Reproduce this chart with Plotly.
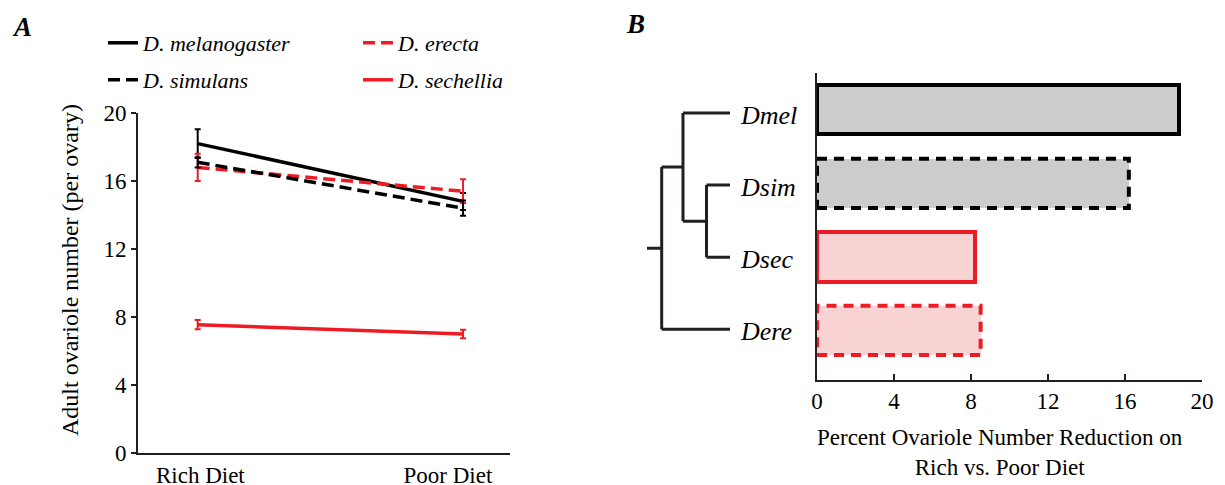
import plotly.graph_objects as go

# ---------------- data ----------------
diets = ["Rich Diet", "Poor Diet"]
diet_x = [0, 1]

species = ["D. melanogaster", "D. erecta", "D. simulans", "D. sechellia"]
mel_mean = [18.2, 14.8]
mel_err = [0.85, 0.5]
ere_mean = [16.8, 15.4]
ere_err = [0.8, 0.7]
sim_mean = [17.1, 14.4]
sim_err = [0.3, 0.45]
sec_mean = [7.55, 7.0]
sec_err = [0.27, 0.25]

short_names = ["Dmel", "Dsim", "Dsec", "Dere"]
reduction = [18.8, 16.2, 8.2, 8.5]
bar_pos = [3, 2, 1, 0]

y_ticks_a = [0, 4, 8, 12, 16, 20]
x_ticks_b = [0, 4, 8, 12, 16, 20]

# ---------------- styling ----------------
W, H = 1225, 485
FONT = "Liberation Serif"
BLACK = "#000000"
RED = "#ed1c24"
GREY_FILL = "#cccccc"
PINK_FILL = "#f9d3d4"
AXIS = "#231f20"
DASH = "12px,6px"


def px_x(p):
    return p / W


def px_y(p):
    return 1 - p / H


fig = go.Figure()

# ---------------- panel A: line chart ----------------
series = [
    ("D. melanogaster", mel_mean, mel_err, BLACK, "solid", "legend"),
    ("D. erecta", ere_mean, ere_err, RED, DASH, "legend"),
    ("D. simulans", sim_mean, sim_err, BLACK, DASH, "legend2"),
    ("D. sechellia", sec_mean, sec_err, RED, "solid", "legend2"),
]
for name, mean, err, color, dash, leg in series:
    fig.add_trace(go.Scatter(
        x=diet_x, y=mean, name=name, mode="lines",
        line=dict(color=color, width=3.5, dash=dash),
        error_y=dict(type="data", array=err, visible=True, color=color,
                     thickness=2, width=3),
        xaxis="x", yaxis="y", legend=leg,
    ))

# ---------------- panel B: bar chart ----------------
fills = [GREY_FILL, GREY_FILL, PINK_FILL, PINK_FILL]
edges = [BLACK, BLACK, RED, RED]
dashed = [False, True, False, True]
BAR_W = 0.67
for name, val, pos, fc, ec, dsh in zip(short_names, reduction, bar_pos, fills, edges, dashed):
    fig.add_trace(go.Bar(
        x=[val], y=[pos], orientation="h", width=BAR_W,
        marker=dict(color=fc, line=dict(color=ec, width=0 if dsh else 4)),
        xaxis="x2", yaxis="y2", showlegend=False, hoverinfo="skip",
    ))
    if dsh:
        lo, hi = pos - BAR_W / 2, pos + BAR_W / 2
        fig.add_trace(go.Scatter(
            x=[0, val, val, 0, 0], y=[lo, lo, hi, hi, lo], mode="lines",
            line=dict(color=ec, width=4, dash="10px,7px"),
            xaxis="x2", yaxis="y2", showlegend=False, hoverinfo="skip",
        ))

# ---------------- cladogram ----------------
# branch depths of the internal nodes and the leaf tips
tree_depth = {"root": 0.0, "n1": 1.0, "n2": 2.45, "n3": 4.05, "tip": 5.65}
leaf_y = dict(zip(short_names, bar_pos))
n3_y = (leaf_y["Dsim"] + leaf_y["Dsec"]) / 2
n2_y = (leaf_y["Dmel"] + n3_y) / 2
n1_y = (n2_y + leaf_y["Dere"]) / 2
d = tree_depth
segments = [
    ([d["root"], d["n1"]], [n1_y, n1_y]),
    ([d["n1"], d["n1"]], [leaf_y["Dere"], n2_y]),
    ([d["n1"], d["tip"]], [leaf_y["Dere"], leaf_y["Dere"]]),
    ([d["n1"], d["n2"]], [n2_y, n2_y]),
    ([d["n2"], d["n2"]], [n3_y, leaf_y["Dmel"]]),
    ([d["n2"], d["tip"]], [leaf_y["Dmel"], leaf_y["Dmel"]]),
    ([d["n2"], d["n3"]], [n3_y, n3_y]),
    ([d["n3"], d["n3"]], [leaf_y["Dsec"], leaf_y["Dsim"]]),
    ([d["n3"], d["tip"]], [leaf_y["Dsim"], leaf_y["Dsim"]]),
    ([d["n3"], d["tip"]], [leaf_y["Dsec"], leaf_y["Dsec"]]),
]
tx, ty = [], []
for sx, sy in segments:
    tx += sx + [None]
    ty += sy + [None]
fig.add_trace(go.Scatter(
    x=tx, y=ty, mode="lines", line=dict(color=AXIS, width=3),
    xaxis="x3", yaxis="y3", showlegend=False, hoverinfo="skip",
))

for nm in short_names:
    fig.add_annotation(
        text=nm, x=px_x(738), xref="paper", xanchor="left",
        y=leaf_y[nm], yref="y3", yanchor="middle", yshift=-2,
        showarrow=False, font=dict(family=FONT, size=26, color=BLACK, style="italic"),
    )

# ---------------- axes ----------------
tick_font = dict(family=FONT, size=23, color=BLACK)
a_dom_x = [px_x(138), px_x(510)]
a_dom_y = [px_y(453), px_y(113)]
b_dom_x = [px_x(817), px_x(1202)]
b_dom_y = [px_y(379.5), px_y(73)]

legend_style = dict(orientation="h", xanchor="left", yanchor="middle",
                    entrywidth=210, entrywidthmode="pixels",
                    font=dict(family=FONT, size=22, style="italic", color=BLACK),
                    bgcolor="rgba(0,0,0,0)", traceorder="normal")

fig.update_layout(
    width=W, height=H,
    margin=dict(l=0, r=0, t=0, b=0),
    paper_bgcolor="white", plot_bgcolor="white",
    font=dict(family=FONT, color=BLACK),
    bargap=0,
    xaxis=dict(domain=a_dom_x, anchor="y", range=[-0.225, 1.177],
               tickvals=[0.01, 0.943], ticktext=diets, ticks="",
               showline=True, linecolor=AXIS, linewidth=2, showgrid=False,
               zeroline=False, tickfont=tick_font, automargin=False),
    yaxis=dict(domain=a_dom_y, anchor="x", range=[0, 20], tickvals=y_ticks_a,
               ticks="outside", ticklen=5, tickwidth=2, tickcolor=AXIS,
               showline=True, linecolor=AXIS, linewidth=2, showgrid=False,
               zeroline=False, tickfont=tick_font, automargin=False),
    xaxis2=dict(domain=b_dom_x, anchor="y2", range=[0, 20], tickvals=x_ticks_b,
                ticks="inside", ticklen=6, tickwidth=2, tickcolor=AXIS,
                showline=True, linecolor=AXIS, linewidth=2, showgrid=False,
                zeroline=False, tickfont=tick_font, automargin=False),
    yaxis2=dict(domain=b_dom_y, anchor="x2", range=[-0.667, 3.5],
                showticklabels=False, ticks="", showline=True, linecolor=AXIS,
                linewidth=2, showgrid=False, zeroline=False, automargin=False),
    xaxis3=dict(domain=[px_x(647), px_x(730)], anchor="y3",
                range=[tree_depth["root"], tree_depth["tip"]], visible=False),
    yaxis3=dict(domain=b_dom_y, anchor="x3", range=[-0.696, 3.555], visible=False),
    legend=dict(legend_style, x=px_x(103), y=px_y(43)),
    legend2=dict(legend_style, x=px_x(103), y=px_y(80)),
)

# titles and panel letters
fig.add_annotation(text="Adult ovariole number (per ovary)", textangle=-90,
                   x=px_x(70), y=px_y(270), xref="paper", yref="paper",
                   xanchor="center", yanchor="middle",
                   showarrow=False, font=dict(family=FONT, size=24, color=BLACK))
fig.add_annotation(text="Percent Ovariole Number Reduction on<br>Rich vs. Poor Diet",
                   x=px_x(1000), y=px_y(452), xref="paper", yref="paper",
                   xanchor="center", yanchor="middle",
                   showarrow=False, align="center",
                   font=dict(family=FONT, size=23, color=BLACK))
fig.add_annotation(text="<b><i>A</i></b>", x=px_x(10), y=px_y(27), xref="paper",
                   yref="paper", xanchor="left", yanchor="middle", showarrow=False,
                   font=dict(family=FONT, size=27, color=BLACK))
fig.add_annotation(text="<b><i>B</i></b>", x=px_x(624), y=px_y(24), xref="paper",
                   yref="paper", xanchor="left", yanchor="middle", showarrow=False,
                   font=dict(family=FONT, size=27, color=BLACK))

fig.write_html("out.html")
